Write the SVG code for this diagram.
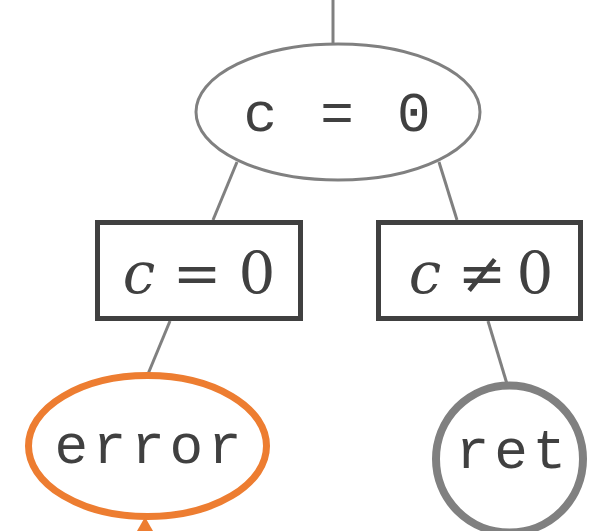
<svg xmlns="http://www.w3.org/2000/svg" width="590" height="531" viewBox="0 0 590 531">
<style>
.edge{stroke:#808080;stroke-width:3;fill:none}
.mono{font-family:"Liberation Mono","DejaVu Sans Mono",monospace;font-size:56px;letter-spacing:4.8px;fill:#404040;text-anchor:middle}
.math{font-family:"DejaVu Serif","Liberation Serif",serif;font-size:58px;fill:#404040;text-anchor:middle}
.box{fill:#ffffff;stroke:#404040;stroke-width:5}
</style>
<rect width="590" height="531" fill="#ffffff"/>
<g id="connectors">
<line class="edge" x1="333" y1="0" x2="333" y2="44"/>
<line class="edge" x1="237" y1="162" x2="213" y2="220"/>
<line class="edge" x1="439" y1="162" x2="457" y2="220"/>
<line class="edge" x1="170" y1="321" x2="148" y2="374"/>
<line class="edge" x1="488" y1="321" x2="507" y2="384"/>
<polygon points="145,517 137,531 153,531" fill="#ed7d31"/>
</g>
<g id="node-c0">
<ellipse cx="338" cy="112" rx="142" ry="68" fill="#ffffff" stroke="#808080" stroke-width="3"/>
<text class="mono" x="339.4" y="131">c = 0</text>
</g>
<g id="node-eq">
<rect class="box" x="97.5" y="222.5" width="203" height="96"/>
<text class="math" y="293"><tspan x="139" font-style="italic">c</tspan><tspan x="197">=</tspan><tspan x="257">0</tspan></text>
</g>
<g id="node-neq">
<rect class="box" x="378.5" y="222.5" width="202" height="96"/>
<text class="math" y="293"><tspan x="425" font-style="italic">c</tspan><tspan x="482">≠</tspan><tspan x="535">0</tspan></text>
</g>
<g id="node-error">
<ellipse cx="147.5" cy="446" rx="119" ry="70.5" fill="#ffffff" stroke="#ed7d31" stroke-width="7"/>
<text class="mono" x="150.4" y="463">error</text>
</g>
<g id="node-ret">
<circle cx="509.5" cy="459" r="73.5" fill="#ffffff" stroke="#808080" stroke-width="8"/>
<text class="mono" x="513.4" y="468">ret</text>
</g>
</svg>
